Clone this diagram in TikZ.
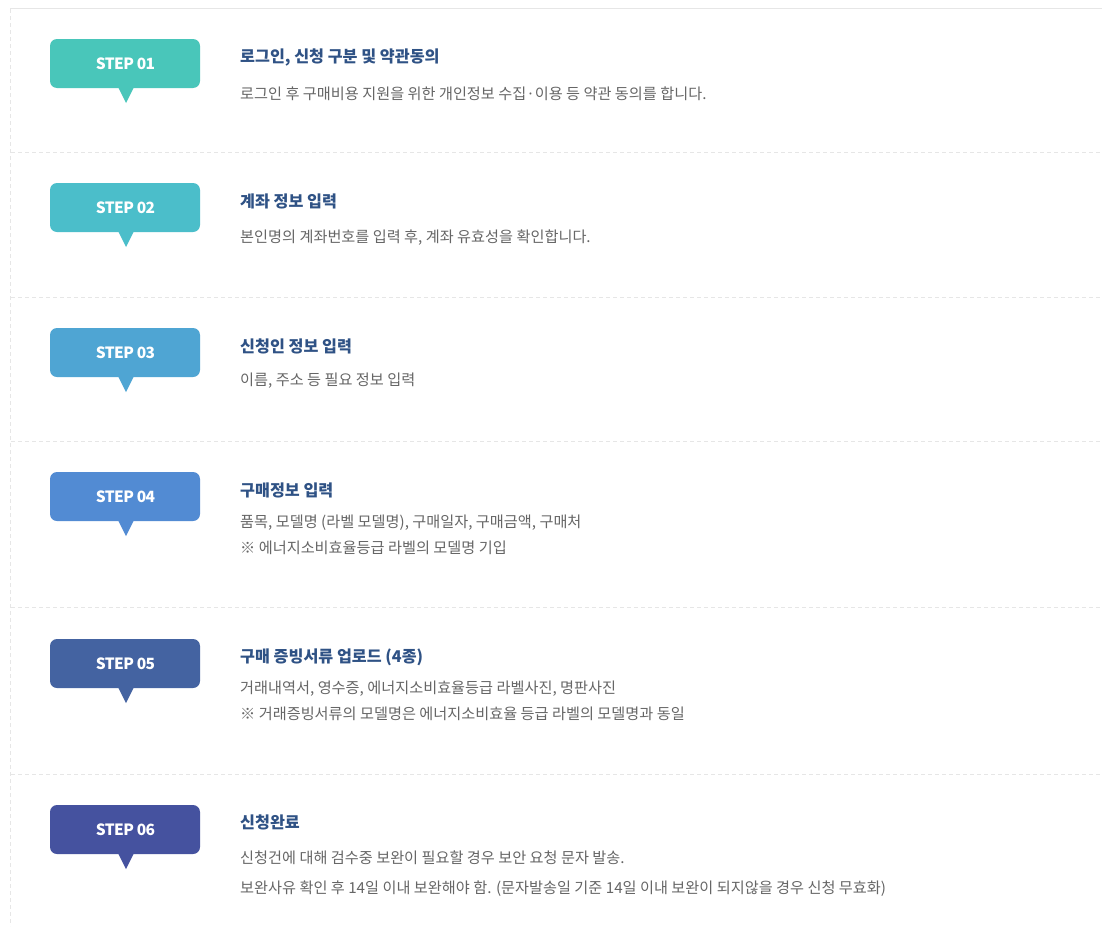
\documentclass[tikz,border=0pt]{standalone}
\usepackage{fontspec}
\setmainfont{Noto Sans CJK KR}
\newfontfamily\kr{Noto Sans CJK KR}
\definecolor{sA}{HTML}{49C6BA}
\definecolor{sB}{HTML}{4BBECA}
\definecolor{sC}{HTML}{4FA5D3}
\definecolor{sD}{HTML}{528BD3}
\definecolor{sE}{HTML}{4463A1}
\definecolor{sF}{HTML}{45529F}
\definecolor{ttl}{HTML}{2F5285}
\definecolor{dsc}{HTML}{666666}
\definecolor{lin}{HTML}{E6E6E6}
\tikzset{
  btext/.style={text=white, font=\kr\bfseries\fontsize{15.5}{15}\selectfont, inner sep=0pt},
  ttlt/.style={anchor=west, inner sep=0pt, text=ttl, font=\kr\bfseries\fontsize{16.2}{18}\selectfont},
  dsct/.style={anchor=west, inner sep=0pt, text=dsc, font=\kr\fontsize{15.2}{17}\selectfont},
  sep/.style={draw=lin, dashed, dash pattern=on 4pt off 3pt, line width=0.8pt},
}
\newcommand{\stepbadge}[3]{% top y, color, label
  \fill[#2, rounded corners=7pt] (50,#1) rectangle (200,#1+49);
  \fill[#2] (118,#1+48) -- (134,#1+48) -- (126,#1+64) -- cycle;
  \node[btext] (b#3) at (125.5,#1+24.5) {\addfontfeatures{LetterSpace=-4}STEP 0#3};
}
\begin{document}
\begin{tikzpicture}[x=1pt,y=-1pt]
\useasboundingbox (0,0) rectangle (1102,926);
\fill[white] (0,0) rectangle (1102,926);
% frame
\draw[lin, line width=1.2pt] (10,8.5) -- (1102,8.5);
\draw[sep] (10.5,9) -- (10.5,926);
\foreach \yy in {152.5,297.5,441.5,607.5,774.5} {\draw[sep] (11,\yy) -- (1102,\yy);}
% badges
\stepbadge{39}{sA}{1}
\stepbadge{183}{sB}{2}
\stepbadge{328}{sC}{3}
\stepbadge{472}{sD}{4}
\stepbadge{639}{sE}{5}
\stepbadge{805}{sF}{6}
% texts
\node[ttlt] (t1) at (240,57) {로그인, 신청 구분 및 약관동의};
\node[dsct] (d1) at (240,93.5) {로그인 후 구매비용 지원을 위한 개인정보 수집·이용 등 약관 동의를 합니다.};
\node[ttlt] (t2) at (240,201) {계좌 정보 입력};
\node[dsct] (d2) at (240,237.5) {본인명의 계좌번호를 입력 후, 계좌 유효성을 확인합니다.};
\node[ttlt] (t3) at (240,346) {신청인 정보 입력};
\node[dsct] (d3) at (240,381) {이름, 주소 등 필요 정보 입력};
\node[ttlt] (t4) at (240,490) {구매정보 입력};
\node[dsct] (d4a) at (240,522.5) {품목, 모델명 (라벨 모델명), 구매일자, 구매금액, 구매처};
\node[dsct] (d4b) at (240,548) {※ 에너지소비효율등급 라벨의 모델명 기입};
\node[ttlt] (t5) at (240,657) {구매 증빙서류 업로드 (4종)};
\node[dsct] (d5a) at (240,689) {거래내역서, 영수증, 에너지소비효율등급 라벨사진, 명판사진};
\node[dsct] (d5b) at (240,714) {※ 거래증빙서류의 모델명은 에너지소비효율 등급 라벨의 모델명과 동일};
\node[ttlt] (t6) at (240,822) {신청완료};
\node[dsct] (d6a) at (240,858) {신청건에 대해 검수중 보완이 필요할 경우 보안 요청 문자 발송.};
\node[dsct] (d6b) at (240,889) {보완사유 확인 후 14일 이내 보완해야 함. (문자발송일 기준 14일 이내 보완이 되지않을 경우 신청 무효화)};
\end{tikzpicture}
\end{document}
